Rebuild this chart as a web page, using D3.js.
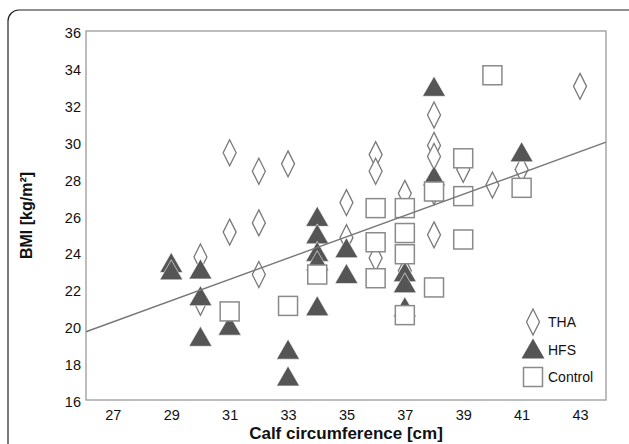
<!DOCTYPE html>
<html>
<head>
<meta charset="utf-8">
<script src="https://cdn.jsdelivr.net/npm/d3@7"></script>
<style>
  body { margin: 0; background: #fff; }
  svg { display: block; font-family: 'Liberation Sans', Arial, sans-serif; }
</style>
</head>
<body>
<svg></svg>
<script>
// values
var thaX = [30, 30, 31, 31, 32, 32, 32, 33, 35, 35, 36, 36, 36, 37, 37, 38, 38, 38, 38, 38, 39, 40, 41, 43];
var thaY = [23.75, 21.3, 29.4, 25.1, 28.4, 25.6, 22.8, 28.8, 26.7, 24.8, 29.3, 28.4, 23.7, 27.2, 23.0, 31.45, 29.8, 29.2, 27.3, 24.95, 28.5, 27.65, 28.5, 33.0];
var hfsX = [29, 29, 30, 30, 30, 31, 33, 33, 34, 34, 34, 34, 34, 35, 35, 37, 37, 37, 38, 38, 41];
var hfsY = [23.4, 23.0, 23.05, 21.6, 19.4, 20.0, 18.7, 17.25, 25.9, 24.95, 24.0, 23.5, 21.05, 24.2, 22.8, 22.9, 22.3, 21.0, 32.95, 28.1, 29.4];
var ctrlX = [31, 33, 34, 36, 36, 36, 37, 37, 37, 37, 38, 38, 39, 39, 39, 40, 41];
var ctrlY = [20.8, 21.1, 22.8, 26.4, 24.55, 22.6, 26.4, 25.05, 23.9, 20.6, 27.3, 22.1, 29.1, 27.05, 24.7, 33.6, 27.5];
var fitLine = [4.65, 0.577]; // intercept, slope
var xTicks = [27, 29, 31, 33, 35, 37, 39, 41, 43];
var yTicks = [16, 18, 20, 22, 24, 26, 28, 30, 32, 34, 36];
var groups = ['THA', 'HFS', 'Control'];

var svg = d3.select('svg')
            .attr('width', 629)
            .attr('height', 444);

// outer rounded box
svg.append('rect')
   .attr('x', 8).attr('y', 10)
   .attr('width', 640).attr('height', 460)
   .attr('rx', 11)
   .attr('fill', 'none')
   .attr('stroke', '#222')
   .attr('stroke-width', 1.2);

var pLeft = 86, pRight = 606, pTop = 31, pBottom = 400;
var x = d3.scaleLinear().domain([26.08, 43.89]).range([pLeft, pRight]);
var y = d3.scaleLinear().domain([16, 36]).range([pBottom, pTop]);

// axes, SPSS style: no tick marks
var xAxis = svg.append('g')
   .attr('transform', 'translate(0,' + pBottom + ')')
   .call(d3.axisBottom(x).tickValues(xTicks).tickSize(0).tickPadding(10));
var yAxis = svg.append('g')
   .attr('transform', 'translate(' + pLeft + ',0)')
   .call(d3.axisLeft(y).tickValues(yTicks).tickSize(0).tickPadding(5));
svg.selectAll('.domain').remove();
svg.selectAll('.tick text')
   .attr('font-size', '14.5px')
   .attr('font-family', "'Liberation Sans', Arial, sans-serif")
   .attr('fill', '#111');
yAxis.selectAll('.tick text').attr('dy', '0.45em');

// plot frame
svg.append('rect')
   .attr('x', pLeft).attr('y', pTop)
   .attr('width', pRight - pLeft).attr('height', pBottom - pTop)
   .attr('fill', 'none')
   .attr('stroke', '#9a9a9a')
   .attr('stroke-width', 1.3);

function diamond(cx, cy) {
  return 'M' + cx + ',' + (cy - 13) + 'L' + (cx + 6.5) + ',' + cy +
         'L' + cx + ',' + (cy + 13) + 'L' + (cx - 6.5) + ',' + cy + 'Z';
}
function triangle(cx, cy) {
  return 'M' + cx + ',' + (cy - 11) + 'L' + (cx + 11.5) + ',' + (cy + 9) +
         'L' + (cx - 11.5) + ',' + (cy + 9) + 'Z';
}

var tha = d3.zip(thaX, thaY);
var hfs = d3.zip(hfsX, hfsY);
var ctrl = d3.zip(ctrlX, ctrlY);

svg.append('g').selectAll('path')
   .data(tha)
   .enter()
   .append('path')
   .attr('d', d => diamond(x(d[0]), y(d[1])))
   .attr('fill', '#fff')
   .attr('stroke', '#7a7a7a')
   .attr('stroke-width', 1.3);

svg.append('g').selectAll('path')
   .data(hfs)
   .enter()
   .append('path')
   .attr('d', d => triangle(x(d[0]), y(d[1])))
   .attr('fill', '#555')
   .attr('stroke', '#fff')
   .attr('stroke-width', 0.6);

svg.append('g').selectAll('rect')
   .data(ctrl)
   .enter()
   .append('rect')
   .attr('x', d => x(d[0]) - 9.5)
   .attr('y', d => y(d[1]) - 9.5)
   .attr('width', 19)
   .attr('height', 19)
   .attr('fill', '#fff')
   .attr('stroke', '#8a8a8a')
   .attr('stroke-width', 1.5);

// fit line across the whole frame
var xd = x.domain();
svg.append('line')
   .attr('x1', x(xd[0])).attr('y1', y(fitLine[0] + fitLine[1] * xd[0]))
   .attr('x2', x(xd[1])).attr('y2', y(fitLine[0] + fitLine[1] * xd[1]))
   .attr('stroke', '#777')
   .attr('stroke-width', 1.4);

// legend
var legend = svg.append('g').attr('transform', 'translate(533,322)');
legend.selectAll('g')
   .data(groups)
   .enter()
   .append('g')
   .attr('transform', (d, i) => 'translate(0,' + (i * 27.5) + ')')
   .each(function(d, i) {
     var g = d3.select(this);
     if (i == 0) {
       g.append('path').attr('d', diamond(0, 0))
        .attr('fill', '#fff').attr('stroke', '#7a7a7a').attr('stroke-width', 1.3);
     } else if (i == 1) {
       g.append('path').attr('d', triangle(0, 0))
        .attr('fill', '#555');
     } else {
       g.append('rect').attr('x', -9.5).attr('y', -9.5)
        .attr('width', 19).attr('height', 19)
        .attr('fill', '#fff').attr('stroke', '#8a8a8a').attr('stroke-width', 1.5);
     }
     g.append('text')
      .text(d)
      .attr('x', 15)
      .attr('y', 5)
      .attr('font-size', '14px')
      .attr('fill', '#111');
   });

// axis titles
svg.append('text')
   .text('Calf circumference [cm]')
   .attr('x', (pLeft + pRight) / 2)
   .attr('y', 439)
   .attr('text-anchor', 'middle')
   .attr('font-weight', 'bold')
   .attr('font-size', '17px')
   .attr('fill', '#111');
svg.append('text')
   .text('BMI [kg/m²]')
   .attr('transform', 'translate(32,' + ((pTop + pBottom) / 2) + ') rotate(-90)')
   .attr('text-anchor', 'middle')
   .attr('font-weight', 'bold')
   .attr('font-size', '16px')
   .attr('fill', '#111');
</script>
</body>
</html>
